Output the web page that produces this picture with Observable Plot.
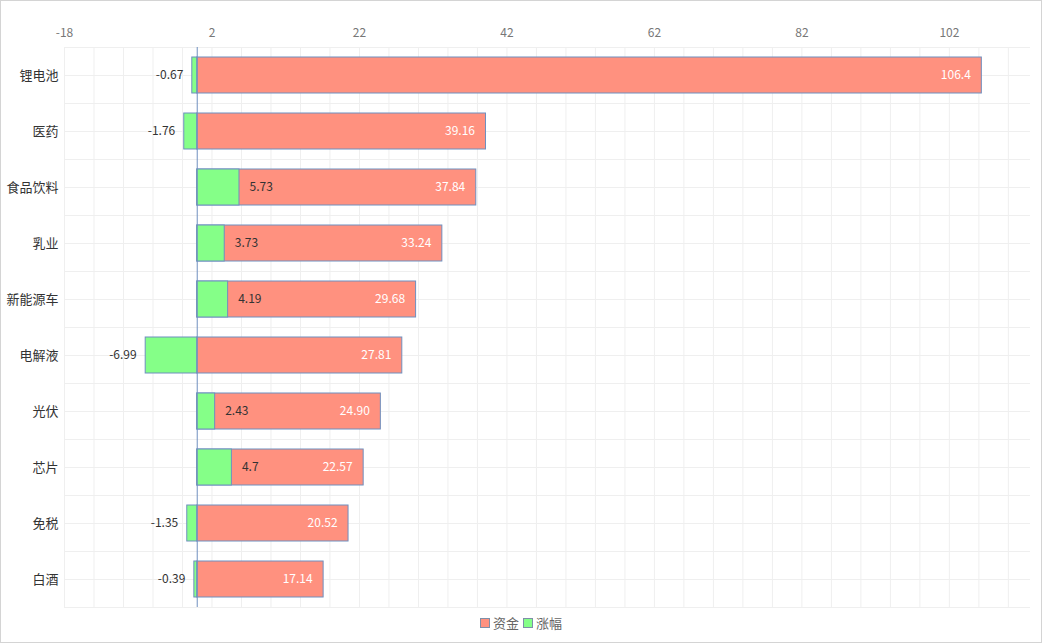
<!DOCTYPE html>
<html>
<head>
<meta charset="utf-8">
<script src="https://cdn.jsdelivr.net/npm/d3@7"></script>
<script src="https://cdn.jsdelivr.net/npm/@observablehq/plot@0.6"></script>
<style>
  html, body { margin: 0; padding: 0; background: #fff; }
  #wrap { position: relative; width: 1042px; height: 643px; border: 1px solid #d4d4d4; box-sizing: border-box; overflow: hidden;
          font-family: "Noto Sans CJK SC", "Noto Sans", sans-serif; }
  #legend { position: absolute; left: 0; right: 0; top: 612px; display: flex; justify-content: center; align-items: center; gap: 4px;
            font-size: 13px; color: #666; }
  .item { display: flex; align-items: center; gap: 3px; }
  .sw { width: 8px; height: 8px; border: 1px solid #7e8fa8; }
</style>
</head>
<body>
<div id="wrap">
  <div id="chart"></div>
  <div id="legend"></div>
</div>
<script>
const categories = ["锂电池", "医药", "食品饮料", "乳业", "新能源车", "电解液", "光伏", "芯片", "免税", "白酒"];
const zijin = [106.4, 39.16, 37.84, 33.24, 29.68, 27.81, 24.90, 22.57, 20.52, 17.14];
const zijinLabels = ["106.4", "39.16", "37.84", "33.24", "29.68", "27.81", "24.90", "22.57", "20.52", "17.14"];
const zhangfu = [-0.67, -1.76, 5.73, 3.73, 4.19, -6.99, 2.43, 4.7, -1.35, -0.39];
const zhangfuLabels = ["-0.67", "-1.76", "5.73", "3.73", "4.19", "-6.99", "2.43", "4.7", "-1.35", "-0.39"];
const xTicks = [-18, 2, 22, 42, 62, 82, 102];
const seriesNames = ["资金", "涨幅"];
const seriesColors = ["#ff917f", "#85ff88"];

const rows = categories.map((c, i) => ({
  cat: c, zijin: zijin[i], zijinLabel: zijinLabels[i], zhangfu: zhangfu[i], zhangfuLabel: zhangfuLabels[i]
}));
const gridX = d3.range(-18, 113, 4);
const stroke = "#6f8fbf";
const font = "\"Noto Sans CJK SC\", \"Noto Sans\", sans-serif";

const chart = Plot.plot({
  width: 1040,
  height: 607,
  marginTop: 46,
  marginBottom: 1,
  marginLeft: 63,
  marginRight: 11,
  style: { fontFamily: font, fontSize: "12px", background: "transparent" },
  x: { domain: [-18, 113], ticks: xTicks, label: null },
  y: { domain: categories, padding: 0, label: null },
  marks: [
    Plot.ruleX(gridX, { stroke: "#efefef", strokeWidth: 1 }),
    Plot.ruleY(categories, { y: d => d, stroke: "#efefef", dy: -28 }),
    Plot.ruleY(categories, { y: d => d, stroke: "#efefef" }),
    Plot.ruleY([categories[categories.length - 1]], { y: d => d, stroke: "#efefef", dy: 28 }),
    Plot.barX(rows, { x1: 0, x2: "zijin", y: "cat", fill: seriesColors[0], stroke, strokeWidth: 1, insetTop: 10, insetBottom: 10 }),
    Plot.barX(rows, { x1: 0, x2: "zhangfu", y: "cat", fill: seriesColors[1], stroke, strokeWidth: 1, insetTop: 10, insetBottom: 10 }),
    Plot.ruleX([0], { stroke: "#6f8fbf", strokeWidth: 1 }),
    Plot.text(rows, { x: "zijin", y: "cat", text: "zijinLabel", textAnchor: "end", dx: -11, fill: "#ffffff", fontSize: 12 }),
    Plot.text(rows.filter(d => d.zhangfu >= 0), { x: "zhangfu", y: "cat", text: "zhangfuLabel", textAnchor: "start", dx: 10, fill: "#333", fontSize: 12 }),
    Plot.text(rows.filter(d => d.zhangfu < 0), { x: "zhangfu", y: "cat", text: "zhangfuLabel", textAnchor: "end", dx: -9, fill: "#333", fontSize: 12 }),
    Plot.axisX({ anchor: "top", ticks: xTicks, tickFormat: d => String(d), tickSize: 0, tickPadding: 11, fill: "#777", fontSize: 12, label: null }),
    Plot.axisY({ anchor: "left", tickSize: 0, tickPadding: 6, fill: "#333", fontSize: 13, label: null })
  ]
});
document.getElementById("chart").appendChild(chart);

const legend = document.getElementById("legend");
seriesNames.forEach((n, i) => {
  const it = document.createElement("div");
  it.className = "item";
  const sw = document.createElement("span");
  sw.className = "sw";
  sw.style.background = seriesColors[i];
  const tx = document.createElement("span");
  tx.textContent = n;
  it.appendChild(sw); it.appendChild(tx);
  legend.appendChild(it);
});
</script>
</body>
</html>
